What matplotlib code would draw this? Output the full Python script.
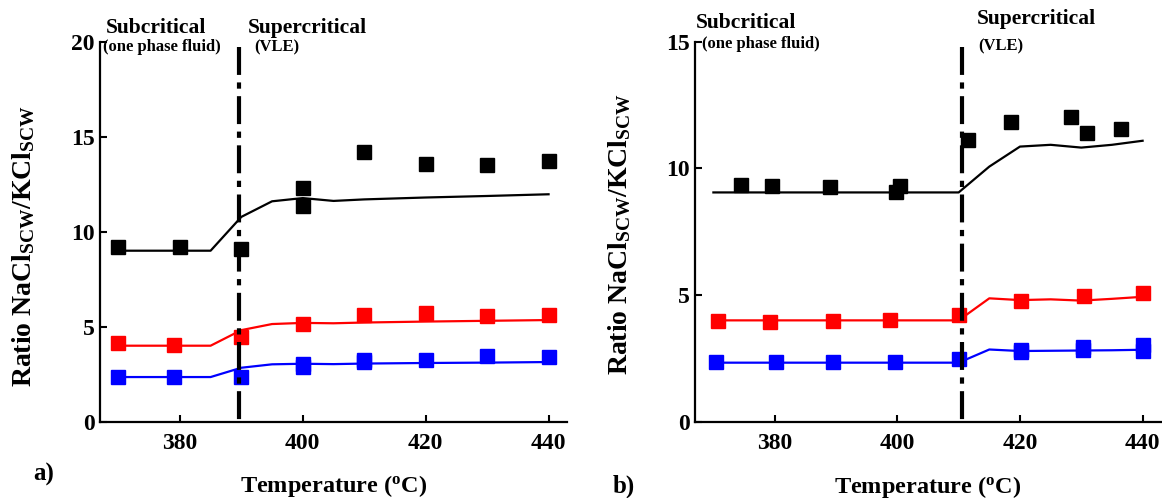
import matplotlib
matplotlib.use("Agg")
import matplotlib.pyplot as plt

plt.rcParams['font.family'] = ['Liberation Serif', 'DejaVu Serif']
plt.rcParams['font.weight'] = 'bold'
plt.rcParams['mathtext.fontset'] = 'custom'
plt.rcParams['mathtext.rm'] = 'Liberation Serif:bold'
plt.rcParams['mathtext.it'] = 'Liberation Serif:bold'
plt.rcParams['mathtext.bf'] = 'Liberation Serif:bold'

# ---------------- Panel a data ----------------
a_black_T = [370, 380, 390, 400, 400, 410, 420, 430, 440]
a_black = [9.2, 9.2, 9.1, 12.3, 11.35, 14.2, 13.55, 13.5, 13.7]
a_red_T = [370, 379, 390, 400, 410, 420, 430, 440]
a_red = [4.12, 4.04, 4.47, 5.14, 5.61, 5.74, 5.56, 5.6]
a_blue_T = [370, 379, 390, 400, 400, 410, 410, 420, 430, 440]
a_blue = [2.37, 2.37, 2.37, 3.02, 2.9, 3.25, 3.12, 3.25, 3.46, 3.42]

a_model_T = [370, 385, 390, 395, 400, 405, 410, 420, 430, 440]
a_black_model = [9.0, 9.0, 10.78, 11.6, 11.77, 11.62, 11.7, 11.8, 11.88, 11.97]
a_red_model = [4.0, 4.0, 4.82, 5.14, 5.2, 5.18, 5.22, 5.27, 5.31, 5.35]
a_blue_model = [2.35, 2.35, 2.84, 3.02, 3.05, 3.03, 3.06, 3.09, 3.11, 3.14]
a_crit_T = 389.7

# ---------------- Panel b data ----------------
b_black_T = [374.5, 379.5, 389, 399.7, 400.4, 411.5, 418.6, 428.4, 431, 436.4]
b_black = [9.35, 9.29, 9.28, 9.06, 9.29, 11.11, 11.83, 12.04, 11.39, 11.54]
b_red_T = [370.8, 379.3, 389.5, 398.8, 410, 420.2, 430.4, 440.1]
b_red = [3.97, 3.93, 3.97, 4.02, 4.23, 4.78, 4.97, 5.07]
b_blue_T = [370.5, 380.2, 389.5, 399.6, 410, 420.2, 420.2, 430.2, 430.2, 440, 440]
b_blue = [2.36, 2.36, 2.36, 2.36, 2.49, 2.75, 2.82, 2.95, 2.84, 3.01, 2.81]

b_model_T = [370, 410, 415, 420, 425, 430, 435, 440]
b_black_model = [9.05, 9.05, 10.07, 10.86, 10.93, 10.82, 10.93, 11.09]
b_red_model = [4.0, 4.0, 4.87, 4.8, 4.83, 4.78, 4.85, 4.93]
b_blue_model = [2.33, 2.33, 2.85, 2.79, 2.8, 2.81, 2.82, 2.84]
b_crit_T = 410.6

xticks = [380, 400, 420, 440]

W, H = 1162, 498
fig = plt.figure(figsize=(W / 100, H / 100), dpi=100)

def px(x, y):
    return x / W, 1 - y / H

ax_a = fig.add_axes([100 / W, 1 - 421.7 / H, 467 / W, 380 / H])
ax_b = fig.add_axes([695 / W, 1 - 421.7 / H, 466 / W, 380 / H])

def style(ax, ymax, yticks):
    ax.set_xlim(367, 443)
    ax.set_ylim(0, ymax)
    ax.set_xticks(xticks)
    ax.set_yticks(yticks)
    for s in ['top', 'right']:
        ax.spines[s].set_visible(False)
    for s in ['left', 'bottom']:
        ax.spines[s].set_linewidth(1.6)
    ax.tick_params(direction='in', length=5, width=1.5, labelsize=17)
    ax.tick_params(axis='x', pad=8)
    ax.tick_params(axis='y', pad=4)
    for lab in ax.get_xticklabels() + ax.get_yticklabels():
        lab.set_fontweight('bold')

def draw(ax, model_T, models, exps, crit_T, crit_top):
    colors = ['black', 'red', 'blue']
    for (T, y), c in zip(exps, colors):
        ax.plot(T, y, 's', color=c, ms=9.5, zorder=3, clip_on=False)
    for y, c in zip(models, colors):
        ax.plot(model_T, y, '-', color=c, lw=1.6, zorder=2)
    ax.plot([crit_T, crit_T], [crit_top, 0], color='black', lw=3,
            dashes=(6.7, 1.8, 1.5, 1.8), zorder=4, solid_capstyle='butt',
            dash_capstyle='butt')

style(ax_a, 20, [0, 5, 10, 15, 20])
style(ax_b, 15, [0, 5, 10, 15])

draw(ax_a, a_model_T, [a_black_model, a_red_model, a_blue_model],
     [(a_black_T, a_black), (a_red_T, a_red), (a_blue_T, a_blue)], a_crit_T, 19.7)
draw(ax_b, b_model_T, [b_black_model, b_red_model, b_blue_model],
     [(b_black_T, b_black), (b_red_T, b_red), (b_blue_T, b_blue)], b_crit_T, 14.8)

big, small = 15.5, 12
def t(x, y, s, size, **kw):
    fig.text(*px(x, y), s, fontsize=size, fontweight='bold', **kw)

# panel a annotations
t(106, 33, 'Subcritical', big, ha='left', va='baseline')
t(103, 51, '(one phase fluid)', small, ha='left', va='baseline')
t(248, 33, 'Supercritical', big, ha='left', va='baseline')
t(254, 51, '(VLE)', small, ha='left', va='baseline')
# panel b annotations
t(696, 28.5, 'Subcritical', big, ha='left', va='baseline')
t(702, 48, '(one phase fluid)', small, ha='left', va='baseline')
t(977, 24, 'Supercritical', big, ha='left', va='baseline')
t(978, 50, '(VLE)', small, ha='left', va='baseline')

xlabel = r'Temperature ($\mathrm{^o}$C)'
t(334, 492, xlabel, 17.5, ha='center', va='baseline')
t(928, 493, xlabel, 17.5, ha='center', va='baseline')

t(33, 481, 'a)', 18, ha='left', va='baseline')
t(613, 493, 'b)', 18, ha='left', va='baseline')

ylabel = r'Ratio NaCl$_{\mathrm{SCW}}$/KCl$_{\mathrm{SCW}}$'
t(24, 246, ylabel, 20, ha='center', va='center', rotation=90)
t(620, 234, ylabel, 20, ha='center', va='center', rotation=90)

fig.savefig('out.png', dpi=100)
